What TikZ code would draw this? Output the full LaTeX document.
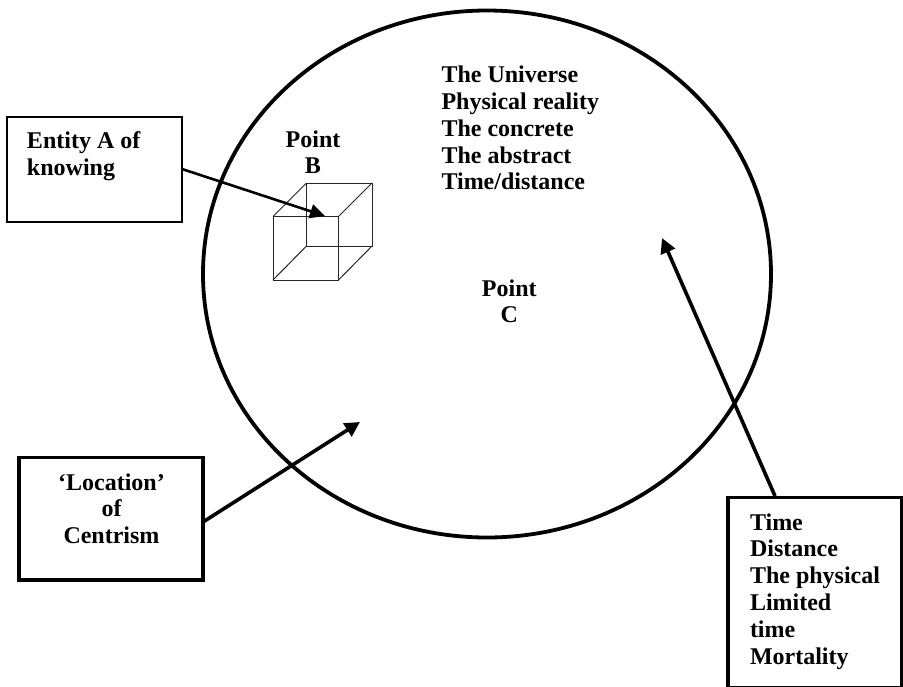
\documentclass[tikz,border=0pt]{standalone}
\usepackage{fontspec}
\setmainfont{Liberation Serif}
\usetikzlibrary{arrows.meta,shapes.geometric}
\tikzset{
  lbl/.style={font=\fontsize{24pt}{26.8pt}\selectfont\bfseries,inner sep=0pt,outer sep=0pt,align=left,anchor=north west},
  clbl/.style={lbl,align=center,anchor=north},
  thinbox/.style={draw,line width=2pt,inner sep=0pt,outer sep=0pt},
  thickbox/.style={draw,line width=3.8pt,inner sep=0pt,outer sep=0pt},
  cubeline/.style={line width=1pt,black!85},
  conn/.style={line width=2.6pt,-{Triangle[length=15pt,width=14pt]}},
  connb/.style={line width=3.6pt,-{Triangle[length=15pt,width=15pt]}}
}
\begin{document}
\begin{tikzpicture}[x=1pt,y=-1pt]
\useasboundingbox (0,0) rectangle (903,686);
\node[draw,line width=3.8pt,ellipse,minimum width=568pt,minimum height=527pt,inner sep=0pt] (world) at (487,274) {};
% boxes
\node[thinbox,minimum width=175pt,minimum height=105pt,anchor=north west] (entity) at (7,116.5) {};
\node[thickbox,minimum width=184pt,minimum height=122.5pt,anchor=north west] (loc) at (19,457.5) {};
\node[thickbox,minimum width=174pt,minimum height=190pt,anchor=north west] (timebox) at (728,497.5) {};
% cube
\coordinate (f1) at (273,216.5); \coordinate (f2) at (338.5,216.5);
\coordinate (f3) at (338.5,280); \coordinate (f4) at (273,280);
\coordinate (b1) at (306.5,183); \coordinate (b2) at (372,183);
\coordinate (b3) at (372,246); \coordinate (b4) at (306.5,246);
\draw[cubeline] (f1)--(f2)--(f3)--(f4)--cycle;
\draw[cubeline] (b1)--(b2)--(b3)--(b4)--cycle;
\draw[cubeline] (f1)--(b1) (f2)--(b2) (f3)--(b3) (f4)--(b4);
% texts
\node[lbl] (tentity) at (27,131.5) {Entity A of\\knowing};
\node[clbl] (tb) at (313,130.5) {Point\\B};
\node[lbl] (tuni) at (441.5,66) {The Universe\\Physical reality\\The concrete\\The abstract\\Time/distance};
\node[clbl] (tc) at (509.3,279.5) {Point\\C};
\node[clbl] (tloc) at (111.5,473.5) {`Location'\\of\\Centrism};
\node[lbl] (ttime) at (750,513.5) {Time\\Distance\\The physical\\Limited\\time\\Mortality};
% connectors
\coordinate (aend) at (325,216);
\coordinate (locstart) at (203,522);
\coordinate (locend) at (360,422);
\coordinate (timestart) at (775,496);
\coordinate (timeend) at (662,238);
\draw[conn] (entity.east) -- (aend);
\draw[connb] (locstart) -- (locend);
\draw[connb] (timestart) -- (timeend);
\end{tikzpicture}
\end{document}
